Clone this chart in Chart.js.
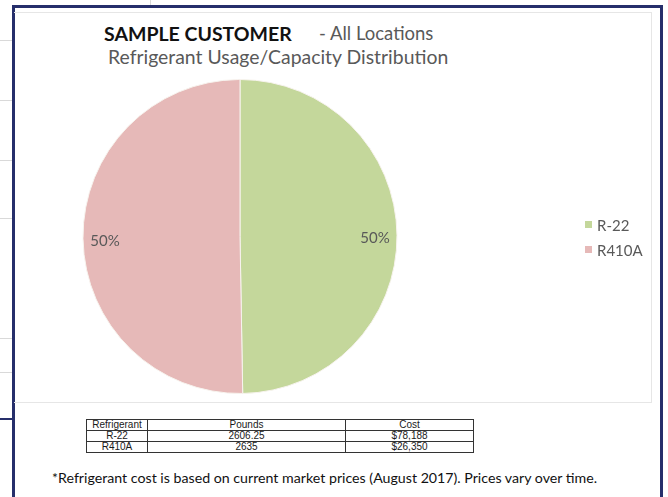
<!DOCTYPE html>
<html>
<head>
<meta charset="utf-8">
<script src="https://cdn.jsdelivr.net/npm/chart.js@4.4.0/dist/chart.umd.min.js"></script>
<style>
    html, body { margin: 0; padding: 0; background: #fff; }
    body { width: 668px; height: 497px; position: relative; overflow: hidden; font-family: Lato, 'Open Sans', sans-serif; }
    .sheet-line { position: absolute; background: #d9d9d9; }
    #frame { position: absolute; left: 12px; top: 5px; width: 645px; height: 520px; border: 3px solid #262f6b; border-bottom: none; background: #fff; }
    #plot-box { position: absolute; left: 14px; top: 12px; width: 637px; height: 389px; border: 1px solid #e6e6e6; border-left: none; }
    #chart-wrap { position: absolute; left: 15px; top: 13px; width: 636px; height: 388px; }
    .title1 { position: absolute; left: 104px; top: 22px; font-size: 19.5px; font-weight: bold; color: #111; white-space: nowrap; }
    .title1b { position: absolute; left: 319px; top: 22px; font-size: 18.5px; color: #595959; white-space: nowrap; }
    .title2 { position: absolute; left: 108px; top: 45px; font-size: 19.4px; color: #595959; white-space: nowrap; }
    #legend { position: absolute; left: 585px; top: 214px; }
    #legend div { height: 25px; line-height: 22px; font-size: 15px; color: #595959; white-space: nowrap; }
    #legend span { display: inline-block; width: 7px; height: 7px; margin-right: 5px; vertical-align: 3px; }
    #data-table { position: absolute; left: 86px; top: 419px; border-collapse: collapse; font-family: 'Liberation Sans Narrow', 'Liberation Sans', Arial, sans-serif; font-size: 10px; color: #1a1a1a; }
    #data-table td { border: 1px solid #333; text-align: center; height: 10px; line-height: 10px; padding: 0; }
    .note { position: absolute; left: 52px; top: 469px; font-size: 14.2px; color: #111; white-space: nowrap; }
</style>
</head>
<body>

<!-- spreadsheet behind the chart window -->
<div class="sheet-line" style="left:150px;top:0;width:1px;height:5px;"></div>
<div class="sheet-line" style="left:0;top:40px;width:12px;height:1px;"></div>
<div class="sheet-line" style="left:0;top:100px;width:12px;height:1px;"></div>
<div class="sheet-line" style="left:0;top:160px;width:12px;height:1px;"></div>
<div class="sheet-line" style="left:0;top:218px;width:12px;height:1px;"></div>
<div class="sheet-line" style="left:0;top:338px;width:12px;height:1px;"></div>
<div class="sheet-line" style="left:0;top:372px;width:12px;height:1px;"></div>
<div class="sheet-line" style="left:0;top:418px;width:12px;height:2px;background:#262f6b;"></div>

<div id="frame"></div>
<div id="plot-box"></div>

<div class="title1">SAMPLE CUSTOMER</div>
<div class="title1b">- All Locations</div>
<div class="title2">Refrigerant Usage/Capacity Distribution</div>

<div id="chart-wrap"><canvas id="pie-chart"></canvas></div>
<div id="legend"></div>

<table id="data-table"></table>
<div class="note">*Refrigerant cost is based on current market prices (August 2017). Prices vary over time.</div>

<script>
// Data
const refrigerants = ['R-22', 'R410A'];
const pounds = [2606.25, 2635];
const costs = ['$78,188', '$26,350'];
const sliceColors = ['#c4d79b', '#e6b9b8'];
const labelColor = '#595959';

// 1. Percentage labels inside each slice (Excel "best fit" style)
const pctLabels = {
    id: 'pctLabels',
    afterDatasetsDraw: function(chart) {
        const ctx = chart.ctx;
        const meta = chart.getDatasetMeta(0);
        const values = chart.data.datasets[0].data;
        const total = values.reduce(function(a, b) { return a + b; }, 0);

        ctx.save();
        ctx.font = '15px Lato, "Open Sans", sans-serif';
        ctx.fillStyle = labelColor;
        ctx.textAlign = 'center';
        ctx.textBaseline = 'middle';
        meta.data.forEach(function(arc, i) {
            const p = arc.getProps(['x', 'y', 'startAngle', 'endAngle', 'outerRadius'], true);
            const mid = (p.startAngle + p.endAngle) / 2;
            const r = p.outerRadius * 0.86;
            const pct = Math.round(values[i] / total * 100) + '%';
            ctx.fillText(pct, p.x + Math.cos(mid) * r, p.y + Math.sin(mid) * r + 3);
        });
        ctx.restore();
    }
};

// 2. Pie chart
const pieChart = new Chart(document.getElementById('pie-chart'), {
    type: 'pie',
    data: {
        labels: refrigerants,
        datasets: [{
            data: pounds,
            backgroundColor: sliceColors,
            borderColor: '#f7f3ee',
            borderWidth: 1,
            hoverOffset: 0
        }]
    },
    options: {
        responsive: true,
        maintainAspectRatio: false,
        animation: false,
        layout: {
            padding: { left: 0, top: 66, right: 186, bottom: 7 }
        },
        plugins: {
            legend: { display: false },
            tooltip: { enabled: false }
        }
    },
    plugins: [pctLabels]
});

// 3. HTML legend built from the chart
(function() {
    const legend = document.getElementById('legend');
    pieChart.data.labels.forEach(function(label, i) {
        const row = document.createElement('div');
        const box = document.createElement('span');
        box.style.background = pieChart.data.datasets[0].backgroundColor[i];
        row.appendChild(box);
        row.appendChild(document.createTextNode(label));
        legend.appendChild(row);
    });
})();

// 4. Table under the chart
(function() {
    const table = document.getElementById('data-table');
    const widths = [60, 197, 127];
    function addRow(cells) {
        const tr = document.createElement('tr');
        cells.forEach(function(text, i) {
            const td = document.createElement('td');
            td.style.width = widths[i] + 'px';
            td.textContent = text;
            tr.appendChild(td);
        });
        table.appendChild(tr);
    }
    addRow(['Refrigerant', 'Pounds', 'Cost']);
    refrigerants.forEach(function(name, i) {
        addRow([name, String(pounds[i]), costs[i]]);
    });
})();
</script>
</body>
</html>
